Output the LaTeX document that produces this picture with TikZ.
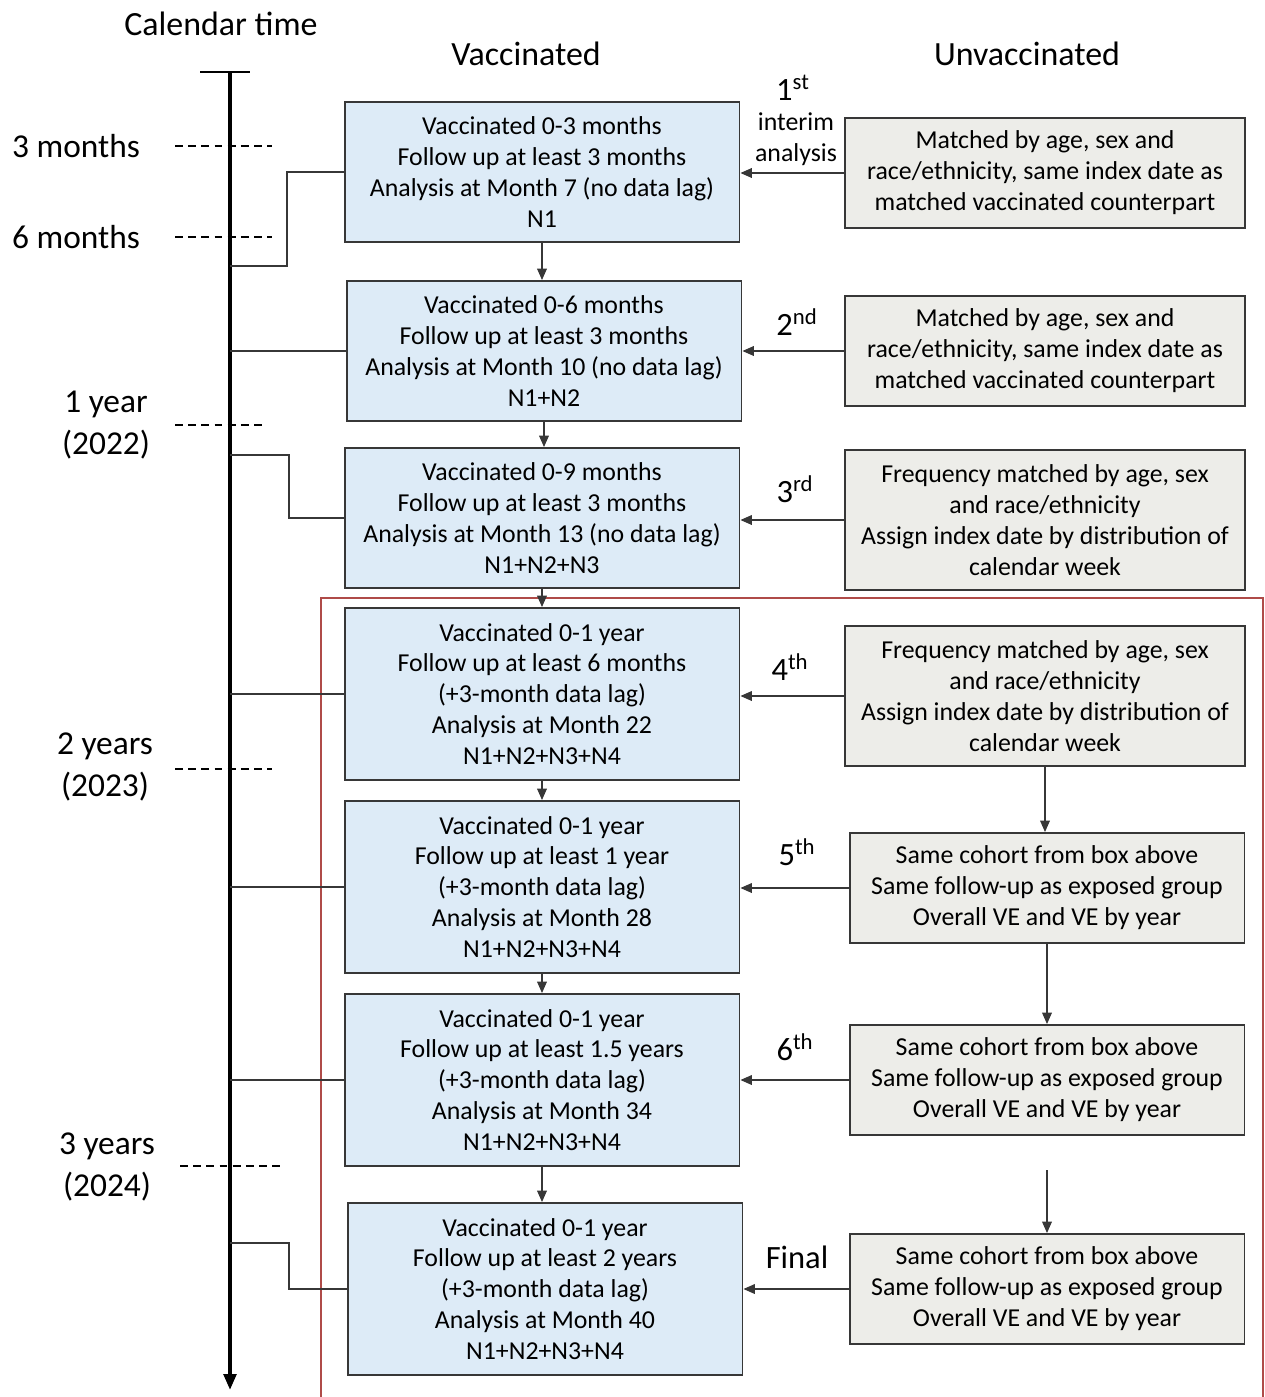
\documentclass[tikz,border=0pt]{standalone}
\usepackage{fontspec}
\setmainfont{Carlito}
\usepackage{xcolor}
\usetikzlibrary{arrows.meta}
\definecolor{vacblue}{RGB}{221,235,247}
\definecolor{unvacgray}{RGB}{237,237,233}
\definecolor{boxline}{RGB}{55,55,55}
\definecolor{framered}{RGB}{175,75,72}

\tikzset{
  vacbox/.style={draw=boxline, line width=1.1pt, fill=vacblue, align=center,
    minimum width=7.9cm, minimum height=2.8cm, inner sep=2pt,
    font=\fontsize{14.7}{17.6}\selectfont},
  tallbox/.style={vacbox, minimum height=3.44cm},
  unvacbox/.style={vacbox, fill=unvacgray, minimum width=8cm, minimum height=2.2cm},
  link/.style={draw=boxline, line width=0.8pt},
  arr/.style={link, -{Triangle[length=6.5pt,width=5.5pt]}},
  tick/.style={line width=0.7pt, dash pattern=on 4.5pt off 3pt},
  head/.style={font=\fontsize{19.3}{23}\selectfont, inner sep=0pt},
  side/.style={font=\fontsize{19}{24}\selectfont, align=center, inner sep=0pt},
  ord/.style={font=\fontsize{18.5}{22}\selectfont, inner sep=0pt}
}

\begin{document}
\begin{tikzpicture}[x=0.02cm, y=-0.02cm]
\useasboundingbox (0,0) rectangle (1265,1397);

% headers
\node[head] (hcal) at (221,24) {Calendar time};
\node[head] (hvac) at (526,54) {Vaccinated};
\node[head] (hunv) at (1027,54) {Unvaccinated};

% red frame round the later analyses
\draw[framered, line width=0.8pt] (321,1400) |- (1263,598) -- (1263,1400);

% calendar axis
\coordinate (atop) at (230,72);
\coordinate (abot) at (230,1390);
\draw[line width=0.8pt] (200,72) -- (250,72);
\draw[line width=2.2pt, -{Triangle[length=9pt,width=7pt]}] (atop) -- (abot);

\draw[tick] (175,146) -- (272,146);
\draw[tick] (175,237) -- (272,237);
\draw[tick] (175,425) -- (262,425);
\draw[tick] (175,769) -- (272,769);
\draw[tick] (180,1166) -- (280,1166);

\node[side] (m3) at (76,146) {3 months};
\node[side] (m6) at (76,237) {6 months};
\node[side] (y1) at (106,425) {1 year\\(2022)};
\node[side] (y2) at (105,767) {2 years\\(2023)};
\node[side] (y3) at (107,1167) {3 years\\(2024)};

% vaccinated column
\node[vacbox] (v1) at (542,172) {Vaccinated 0-3 months\\Follow up at least 3 months\\Analysis at Month 7 (no data lag)\\N1};
\node[vacbox] (v2) at (544,351) {Vaccinated 0-6 months\\Follow up at least 3 months\\Analysis at Month 10 (no data lag)\\N1+N2};
\node[vacbox] (v3) at (542,518) {Vaccinated 0-9 months\\Follow up at least 3 months\\Analysis at Month 13 (no data lag)\\N1+N2+N3};
\node[tallbox] (v4) at (542,694) {Vaccinated 0-1 year\\Follow up at least 6 months\\(+3-month data lag)\\Analysis at Month 22\\N1+N2+N3+N4};
\node[tallbox] (v5) at (542,887) {Vaccinated 0-1 year\\Follow up at least 1 year\\(+3-month data lag)\\Analysis at Month 28\\N1+N2+N3+N4};
\node[tallbox] (v6) at (542,1080) {Vaccinated 0-1 year\\Follow up at least 1.5 years\\(+3-month data lag)\\Analysis at Month 34\\N1+N2+N3+N4};
\node[tallbox] (v7) at (545,1289) {Vaccinated 0-1 year\\Follow up at least 2 years\\(+3-month data lag)\\Analysis at Month 40\\N1+N2+N3+N4};

% unvaccinated column
\node[unvacbox] (u1) at (1045,173) {Matched by age, sex and\\race/ethnicity, same index date as\\matched vaccinated counterpart};
\node[unvacbox] (u2) at (1045,351) {Matched by age, sex and\\race/ethnicity, same index date as\\matched vaccinated counterpart};
\node[unvacbox, minimum height=2.8cm] (u3) at (1045,520) {Frequency matched by age, sex\\and race/ethnicity\\Assign index date by distribution of\\calendar week};
\node[unvacbox, minimum height=2.8cm] (u4) at (1045,696) {Frequency matched by age, sex\\and race/ethnicity\\Assign index date by distribution of\\calendar week};
\node[unvacbox, minimum width=7.9cm] (u5) at (1047,888) {Same cohort from box above\\Same follow-up as exposed group\\Overall VE and VE by year};
\node[unvacbox, minimum width=7.9cm] (u6) at (1047,1080) {Same cohort from box above\\Same follow-up as exposed group\\Overall VE and VE by year};
\node[unvacbox, minimum width=7.9cm] (u7) at (1047,1289) {Same cohort from box above\\Same follow-up as exposed group\\Overall VE and VE by year};

% analysis labels
\node[ord] (o1) at (793,88) {1\textsuperscript{st}};
\node[align=center, inner sep=0pt, font=\fontsize{14.7}{17.6}\selectfont] (o1b) at (796,139) {interim\\analysis};
\node[ord] (o2) at (797,322) {2\textsuperscript{nd}};
\node[ord] (o3) at (795,489) {3\textsuperscript{rd}};
\node[ord] (o4) at (790,667) {4\textsuperscript{th}};
\node[ord] (o5) at (797,852) {5\textsuperscript{th}};
\node[ord] (o6) at (795,1047) {6\textsuperscript{th}};
\node[ord] (o7) at (797,1257) {Final};

% unvaccinated -> vaccinated
\foreach \k in {1,...,7}
  \draw[arr] (u\k.west) -- (u\k.west -| v\k.east);

% down the vaccinated column
\foreach \a/\b in {1/2,2/3,3/4,4/5,5/6,6/7}
  \draw[arr] (v\a.south) -- (v\a.south |- v\b.north);

% down the unvaccinated column
\draw[arr] (u4.south) -- (u4.south |- u5.north);
\draw[arr] (u5.south) -- (u5.south |- u6.north);
\coordinate (u7in) at (1047,1170);
\draw[arr] (u7in) -- (u7.north);

% calendar axis -> analyses
\coordinate (t1) at (230,266);
\coordinate (t3) at (230,455);
\coordinate (t7) at (230,1243);
\draw[link] (t1) -- (287,266) |- (v1.west);
\draw[link] (v2.west -| atop) -- (v2.west);
\draw[link] (t3) -- (289,455) |- (v3.west);
\draw[link] (v4.west -| atop) -- (v4.west);
\draw[link] (v5.west -| atop) -- (v5.west);
\draw[link] (v6.west -| atop) -- (v6.west);
\draw[link] (t7) -- (289,1243) |- (v7.west);
\end{tikzpicture}
\end{document}
